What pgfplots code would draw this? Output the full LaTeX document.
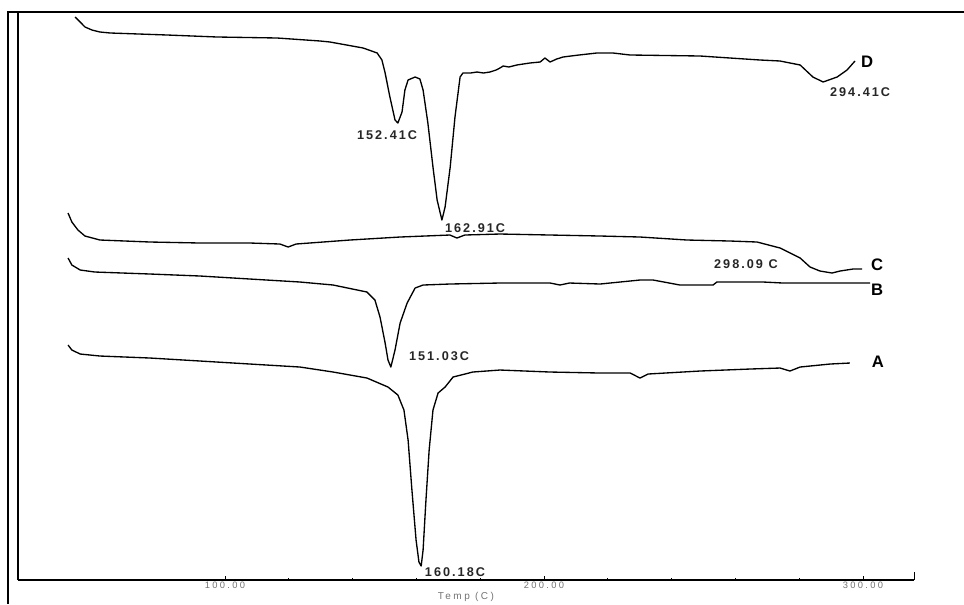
\documentclass[border=0pt]{standalone}
\usepackage{pgfplots}
\pgfplotsset{compat=1.18}
\usepackage{fontspec}
\setmainfont{Liberation Sans}
\newfontfamily\labfont[LetterSpace=16]{Liberation Sans}
\newfontfamily\tickfont[LetterSpace=25]{Liberation Sans}
\begin{document}
\begin{tikzpicture}
\tikzset{curve/.style={black, line width=1pt, line join=round, mark=none}}
\begin{axis}[
  width=672pt, height=426pt, scale only axis,
  xmin=35.1, xmax=316, ymin=0, ymax=568,
  axis x line=bottom, axis y line=left,
  axis line style={-, line width=0.9pt, black},
  ytick=\empty,
  xtick={100,200,300},
  minor x tick num=4,
  extra x ticks={316}, extra x tick labels={},
  extra x tick style={major tick length=6pt},
  tick align=inside, major tick length=3pt, minor tick length=1.5pt,
  tick style={black, line width=0.6pt},
  xticklabel style={font=\tickfont\fontsize{7}{8}\selectfont, text=black!55, inner sep=1pt},
  xlabel={Temp (C)},
  xlabel style={font=\tickfont\fontsize{7.5}{8}\selectfont, text=black!55, at={(axis description cs:0.5,0)}, anchor=center, yshift=-12.5pt},
  clip=false,
  /pgf/number format/fixed, /pgf/number format/fixed zerofill, /pgf/number format/precision=2,
  /pgf/number format/assume math mode=true,
]
% D
\addplot[curve] coordinates {
(53.0,563)(54.6,558)(56.1,553)(58.3,550)(60.8,548)(64.0,547)(81.8,545)(97.5,543)
(116.3,542)(129.8,539)(132.9,538)(143.3,532)(147.7,527)(149.2,520)(150.2,507)
(151.7,483)(153.3,460)(154.2,457)(155.5,468)(156.4,490)(157.4,500)(159.6,503)
(161.1,501)(162.1,490)(163.6,457)(165.2,413)(166.5,380)(168.0,360)(169.0,373)
(170.6,413)(172.1,463)(173.7,503)(174.6,507)(177.0,507)(179.0,508)(181.0,507)(183.1,508)
(185.0,510)(186.2,512)(187.2,514)(189.0,513)(191.5,515)(193.5,516)(195.6,517)(198.8,518)
(200.3,522)(201.9,518)(204.0,521)(206.0,523)(211.0,525)(216.6,527)(221.6,527)(227.0,525)
(248.9,524)(267.7,520)(274.0,519)(280.3,515)(284.3,503)(287.5,498)(291.9,503)
(295.0,510)(297.5,519)
};
% C
\addplot[curve] coordinates {
(50.8,367)(52.0,358)(53.9,350)(56.1,344)(60.8,340)(76.5,338)(92.2,337)(107.8,337)
(117.2,336)(119.8,333)(122.3,336)(139.2,340)(154.9,343)(170.5,345)(172.7,342)
(175.2,345)(186.2,346)(201.9,345)(217.6,344)(230.1,343)(244.8,340)(258.3,339)
(266.8,338)(274.0,332)(280.3,322)(283.4,313)(286.5,309)(290.3,307)(292.8,309)
(296.9,311)(299.7,311)
};
% B
\addplot[curve] coordinates {
(50.8,322)(52.0,315)(54.6,310)(59.2,308)(76.5,306)(92.2,304)(107.8,301)(123.5,298)
(133.9,295)(144.5,288)(147.0,280)(148.6,263)(150.2,237)(151.1,220)(152.0,213)
(153.3,230)(154.9,257)(157.1,277)(159.6,292)(162.1,295)(170.5,296)(186.2,297)
(201.9,297)(205.0,295)(208.0,297)(217.6,296)(230.1,300)(234.2,300)(242.6,295)
(253.0,295)(254.2,298)(268.7,298)(274.9,297)(288.7,297)(302.2,297)
};
% A
\addplot[curve] coordinates {
(50.8,235)(52.0,230)(54.6,226)(60.8,224)(76.5,222)(92.2,219)(107.8,216)(123.5,213)
(133.9,208)(144.5,202)(151.1,193)(154.2,185)(156.1,170)(157.4,140)(158.6,90)
(159.9,40)(160.8,18)(161.5,14)(162.1,30)(163.0,80)(164.0,130)(165.2,170)
(166.8,187)(169.0,193)(171.5,203)(177.7,208)(186.2,210)(201.9,208)(217.6,207)
(227.0,207)(230.1,202)(232.6,206)(248.9,209)(264.6,211)(274.0,212)(277.1,209)
(280.3,213)(289.7,216)(295.9,217)
};
% labels
\tikzset{pk/.style={font=\labfont\bfseries\fontsize{9.5}{11}\selectfont, text=black!85}}
\node[pk] at (axis cs:150.8,445) {152.41C};
\node[pk] at (axis cs:178.4,352) {162.91C};
\node[pk] at (axis cs:299.1,488) {294.41C};
\node[pk] at (axis cs:263.3,316) {298.09 C};
\node[pk] at (axis cs:167.1,224) {151.03C};
\node[pk] at (axis cs:172.1,8) {160.18C};
\node[font=\bfseries\fontsize{12.5}{14}\selectfont] at (axis cs:301.3,518) {D};
\node[font=\bfseries\fontsize{12.5}{14}\selectfont] at (axis cs:304.4,315) {C};
\node[font=\bfseries\fontsize{12.5}{14}\selectfont] at (axis cs:304.4,290) {B};
\node[font=\bfseries\fontsize{12.5}{14}\selectfont] at (axis cs:304.7,218) {A};
\coordinate (bl) at (axis cs:29.47,-24);
\coordinate (tr) at (axis cs:331.67,580);
\coordinate (tl) at (axis cs:31.98,568);
\coordinate (tr2) at (axis cs:331.67,568);
\coordinate (lb) at (axis cs:31.98,-24);
\end{axis}
\pgfresetboundingbox
\useasboundingbox (bl) rectangle (tr);
\draw[line width=0.9pt] (tr2) -- (tl) -- (lb);
\end{tikzpicture}
\end{document}
